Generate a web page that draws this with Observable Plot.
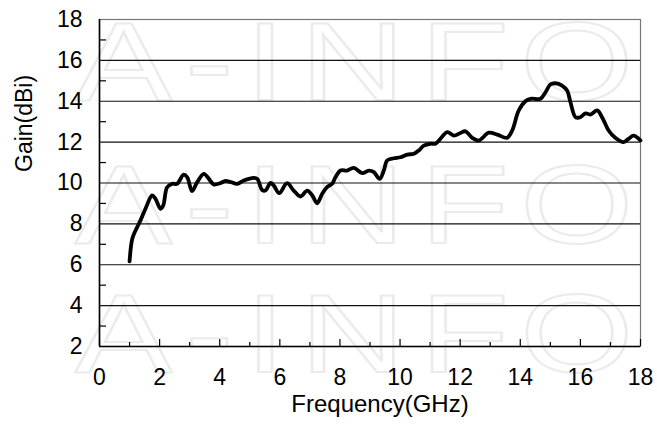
<!DOCTYPE html>
<html><head><meta charset="utf-8">
<script src="https://cdn.jsdelivr.net/npm/d3@7"></script>
<script src="https://cdn.jsdelivr.net/npm/@observablehq/plot@0.6"></script>
<style>html,body{margin:0;padding:0;background:#fff;} svg{display:block}</style>
</head><body><div id="chart"></div>
<script>
const freq = [1.0, 1.09, 1.2, 1.36, 1.53, 1.75, 1.86, 2.03, 2.12, 2.25, 2.42, 2.58, 2.8, 2.92, 3.08, 3.25, 3.47, 3.64, 3.8, 4.03, 4.19, 4.36, 4.58, 4.8, 5.13, 5.25, 5.41, 5.52, 5.69, 5.8, 5.98, 6.24, 6.46, 6.69, 6.91, 7.08, 7.24, 7.41, 7.57, 7.74, 7.85, 8.02, 8.24, 8.46, 8.74, 8.96, 9.13, 9.32, 9.46, 9.57, 9.79, 10.01, 10.24, 10.46, 10.62, 10.79, 11.01, 11.18, 11.34, 11.57, 11.79, 12.01, 12.18, 12.4, 12.62, 12.95, 13.23, 13.56, 13.73, 13.95, 14.17, 14.34, 14.67, 14.84, 15.0, 15.17, 15.39, 15.56, 15.67, 15.84, 16.0, 16.17, 16.33, 16.56, 16.72, 16.94, 17.16, 17.44, 17.6, 17.77, 18.0];
const gain = [6.17, 7.27, 7.68, 8.16, 8.74, 9.39, 9.23, 8.74, 8.9, 9.79, 9.96, 9.96, 10.41, 10.28, 9.6, 10.04, 10.45, 10.2, 9.93, 10.0, 10.1, 10.05, 9.96, 10.12, 10.25, 10.2, 9.66, 9.63, 10.0, 9.87, 9.5, 9.99, 9.63, 9.34, 9.63, 9.39, 9.01, 9.47, 9.8, 9.96, 10.28, 10.61, 10.61, 10.74, 10.48, 10.61, 10.53, 10.2, 10.61, 11.1, 11.21, 11.26, 11.39, 11.43, 11.59, 11.83, 11.92, 11.92, 12.16, 12.49, 12.32, 12.45, 12.53, 12.21, 12.08, 12.46, 12.37, 12.21, 12.57, 13.55, 14.0, 14.12, 14.12, 14.44, 14.82, 14.88, 14.77, 14.52, 13.95, 13.22, 13.22, 13.41, 13.35, 13.55, 13.22, 12.57, 12.21, 12.0, 12.16, 12.32, 12.08];
const xMajor = [0, 2, 4, 6, 8, 10, 12, 14, 16, 18];
const xMinor = [1, 3, 5, 7, 9, 11, 13, 15, 17];
const yMajor = [2, 4, 6, 8, 10, 12, 14, 16, 18];
const yMinor = [3, 5, 7, 9, 11, 13, 15, 17];
const yGrid = [4, 6, 8, 10, 12, 14, 16];
const xLabel = "Frequency(GHz)";
const yLabel = "Gain(dBi)";
const watermark = "A-INFO";

const data = freq.map((f, i) => ({f, g: gain[i]}));
const font = "'Liberation Sans', Arial, sans-serif";
const W = 657, H = 433, mL = 99, mR = 17, mT = 19, mB = 87;
const fw = W - mL - mR, fh = H - mT - mB;

const chart = Plot.plot({
  width: W, height: H,
  marginLeft: mL, marginRight: mR, marginTop: mT, marginBottom: mB,
  style: {fontFamily: font, fontSize: "23px", color: "#000", background: "#fff", overflow: "visible"},
  x: {domain: [0, 18]},
  y: {domain: [2, 18]},
  marks: [
    Plot.ruleY(yGrid, {stroke: "#111", strokeWidth: 1.2}),
    Plot.frame({stroke: "#777", strokeWidth: 1.2}),
    Plot.tickX(xMajor, {x: d => d, insetTop: fh - 7, stroke: "#000", strokeWidth: 1.2}),
    Plot.tickX(xMinor, {x: d => d, insetTop: fh - 4, stroke: "#000", strokeWidth: 1.2}),
    Plot.tickY(yMinor, {y: d => d, insetRight: fw - 7, stroke: "#000", strokeWidth: 1.2}),
    Plot.ruleX([0], {stroke: "#000", strokeWidth: 1.6}),
    Plot.ruleY([2], {stroke: "#000", strokeWidth: 1.6}),
    Plot.axisX(xMajor, {tickSize: 0, tickPadding: 22, label: null, fontSize: 23, tickFormat: d => String(d)}),
    Plot.axisY(yMajor, {tickSize: 0, tickPadding: 17, label: null, fontSize: 23, tickFormat: d => String(d)}),
    Plot.line(data, {x: "f", y: "g", stroke: "#000", strokeWidth: 3.8, curve: "catmull-rom", strokeLinejoin: "round", strokeLinecap: "round"}),
    Plot.text([xLabel], {frameAnchor: "bottom", dx: 10, dy: 65, fontSize: 24, fill: "#000"}),
    Plot.text([yLabel], {frameAnchor: "left", dx: -75, dy: -11, rotate: -90, fontSize: 23, fill: "#000"})
  ]
});

const svg = d3.select(chart);
const wm = svg.insert("g", ":first-child").attr("aria-label", "watermark");
wm.append("rect").attr("width", W).attr("height", H).attr("fill", "#fff");
const letterX = [75, 185, 245, 300, 420, 520].map(v => v / 1.3).join(" ");
[100, 243, 372].forEach(b => {
  wm.append("text")
    .attr("transform", `translate(0,${b}) scale(1.3,1)`)
    .attr("x", letterX)
    .attr("font-family", font)
    .attr("font-size", 112)
    .attr("text-anchor", "start")
    .attr("fill", "none")
    .attr("stroke", "#ebebeb")
    .attr("stroke-width", 2)
    .text(watermark);
});
document.getElementById("chart").appendChild(chart);
</script>
</body></html>
